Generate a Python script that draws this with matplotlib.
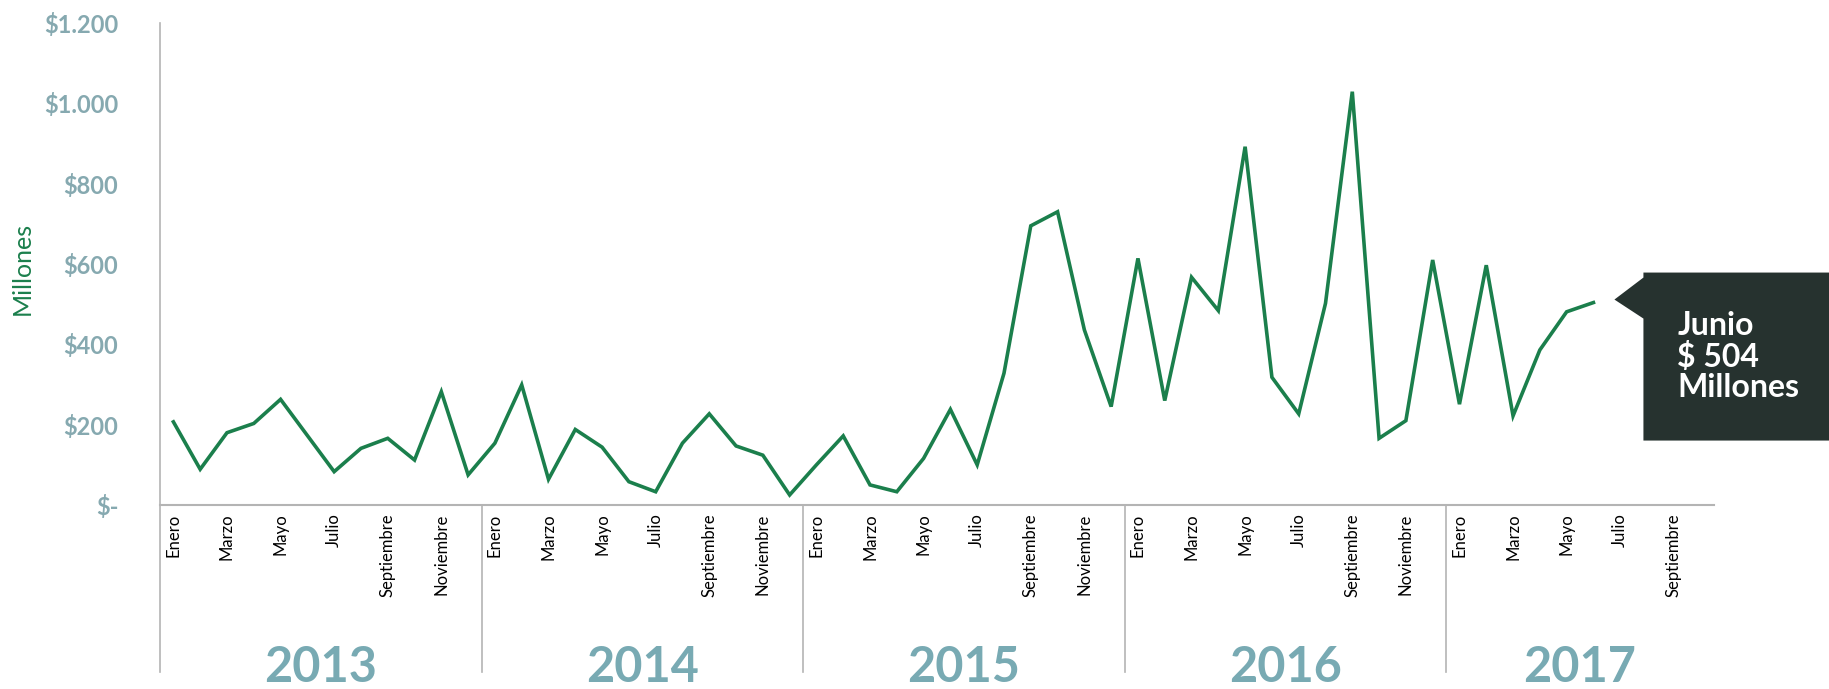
import matplotlib
matplotlib.use('Agg')
import matplotlib.pyplot as plt
import matplotlib.transforms as mtransforms
from matplotlib.patches import Polygon

plt.rcParams['font.family'] = ['Lato', 'DejaVu Sans']

# monthly values, millions of pesos
years = ['2013', '2014', '2015', '2016', '2017']
months = ['Enero', 'Febrero', 'Marzo', 'Abril', 'Mayo', 'Junio', 'Julio',
          'Agosto', 'Septiembre', 'Octubre', 'Noviembre', 'Diciembre']
months_per_year = [12, 12, 12, 12, 10]
v2013 = [207, 89, 180, 203, 263, 173, 83, 141, 166, 112, 282, 75]
v2014 = [154, 299, 64, 188, 144, 58, 33, 154, 227, 147, 124, 25]
v2015 = [100, 172, 50, 33, 116, 238, 100, 328, 695, 730, 436, 245]
v2016 = [614, 260, 567, 484, 892, 318, 227, 502, 1029, 166, 210, 610]
v2017 = [251, 597, 222, 386, 481, 504]
yticks = [0, 200, 400, 600, 800, 1000, 1200]
ytick_labels = ['$-', '$200', '$400', '$600', '$800', '$1.000', '$1.200']
callout_text = 'Junio\n$ 504\nMillones'

values = v2013 + v2014 + v2015 + v2016 + v2017
n_cat = sum(months_per_year)
cat_labels = []
for n in months_per_year:
    cat_labels += months[:n]

green = '#1b7f4c'
tick_col = '#86a9b0'
year_col = '#78aab3'
axis_col = '#b4b4b4'

W, H = 1829, 689
fig = plt.figure(figsize=(W / 100, H / 100), dpi=100)
ax = fig.add_axes([160 / W, 184 / H, (1714 - 160) / W, (666 - 184) / H])

ax.plot(range(len(values)), values, color=green, lw=2.6, solid_joinstyle='miter')
ax.set_xlim(-0.5, n_cat - 0.5)
ax.set_ylim(0, 1200)

for s in ['top', 'right']:
    ax.spines[s].set_visible(False)
ax.spines['left'].set_color(axis_col)
ax.spines['bottom'].set_color(axis_col)
ax.spines['left'].set_linewidth(1.2)
ax.spines['bottom'].set_linewidth(1.5)

ax.set_yticks(yticks)
ax.set_yticklabels(ytick_labels, color=tick_col, fontsize=17, fontweight='bold')
ax.tick_params(axis='y', length=0, pad=30)
ax.set_ylabel('Millones', color=green, fontsize=18)
ax.yaxis.set_label_coords(-0.081, 0.49)

ticks = list(range(0, n_cat, 2))
ax.set_xticks(ticks)
ax.set_xticklabels([cat_labels[i] for i in ticks], rotation=90, fontsize=12,
                   color='black', va='top')
ax.tick_params(axis='x', length=0, pad=6)

# year groups: separators and labels
trans = mtransforms.blended_transform_factory(ax.transData, ax.transAxes)
start = 0
for yr, n in zip(years, months_per_year):
    ax.plot([start - 0.5, start - 0.5], [0, -0.347], transform=trans,
            color=axis_col, lw=1.2, clip_on=False)
    ax.text(start + (n - 1) / 2, -0.337, yr, transform=trans, ha='center',
            va='center', fontsize=35, fontweight='bold', color=year_col)
    start += n

# callout next to the last value
fig.canvas.draw()
px, py = ax.transData.transform((len(values) - 1, values[-1]))
tx, ty = px + 21, py + 3
bx = tx + 29
box = Polygon([(tx, ty), (bx, ty + 22), (bx, ty + 27), (W + 5, ty + 27),
               (W + 5, ty - 141), (bx, ty - 141), (bx, ty - 19)],
              closed=True, transform=mtransforms.IdentityTransform(),
              facecolor='#26322f', edgecolor='none')
fig.add_artist(box)
fig.text((bx + 34) / W, (ty - 57) / H, callout_text, color='white',
         fontsize=23, fontweight='bold', ha='left', va='center', linespacing=1.05)

fig.savefig('out.png', dpi=100)
